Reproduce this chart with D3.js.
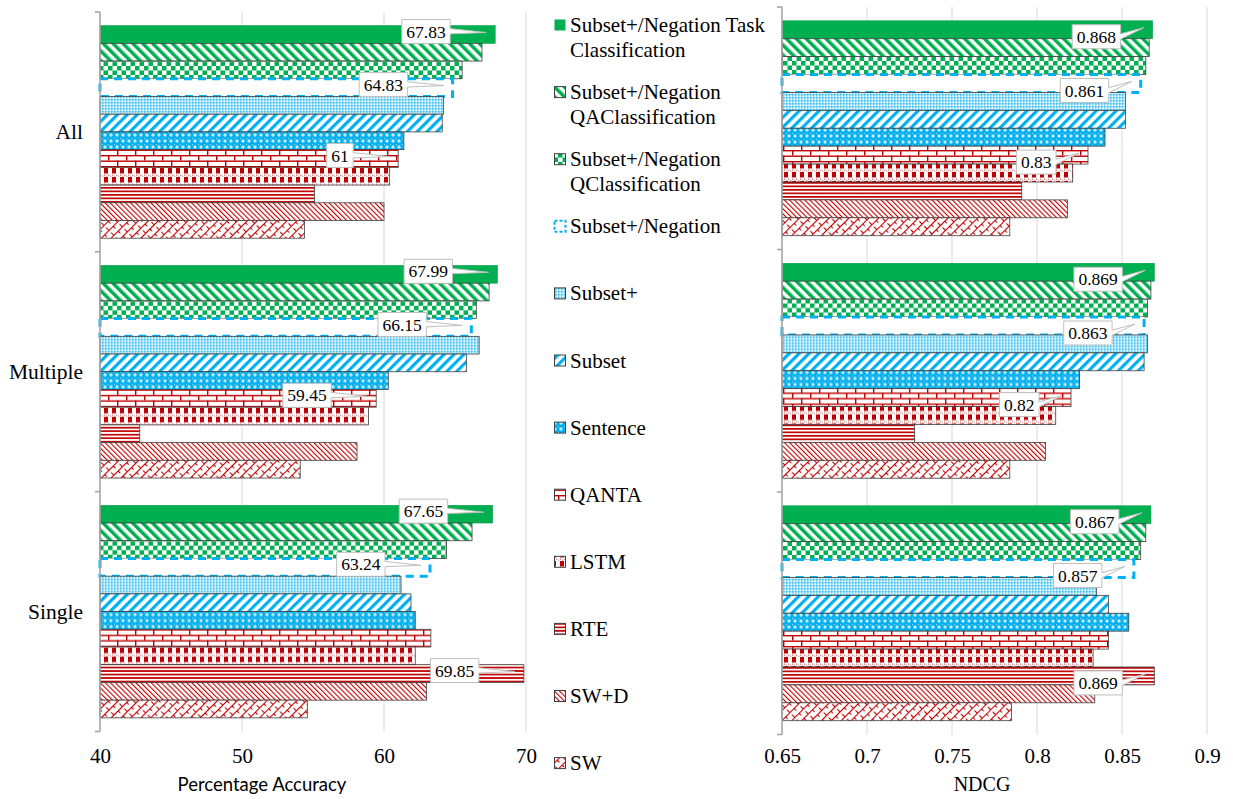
<!DOCTYPE html>
<html>
<head>
<meta charset="utf-8">
<script src="https://cdn.jsdelivr.net/npm/d3@7"></script>
<style>
  body { margin: 0; background: #fff; }
  text { font-family: "Liberation Serif", "Times New Roman", serif; fill: #000; }
</style>
</head>
<body>
<script>
// categories and series
const groups = ["All", "Multiple", "Single"];
const series = [
  "Subset+/Negation Task Classification",
  "Subset+/Negation QAClassification",
  "Subset+/Negation QClassification",
  "Subset+/Negation",
  "Subset+",
  "Subset",
  "Sentence",
  "QANTA",
  "LSTM",
  "RTE",
  "SW+D",
  "SW"
];
const legendLines = [
  ["Subset+/Negation Task", "Classification"],
  ["Subset+/Negation", "QAClassification"],
  ["Subset+/Negation", "QClassification"],
  ["Subset+/Negation"],
  ["Subset+"],
  ["Subset"],
  ["Sentence"],
  ["QANTA"],
  ["LSTM"],
  ["RTE"],
  ["SW+D"],
  ["SW"]
];

// Percentage accuracy (series order as above)
const accAll      = [67.83, 66.9, 65.5, 64.83, 64.2, 64.1, 61.4, 61, 60.4, 55.1, 60.0, 54.4];
const accMultiple = [67.99, 67.4, 66.5, 66.15, 66.7, 65.8, 60.3, 59.45, 58.9, 42.8, 58.1, 54.1];
const accSingle   = [67.65, 66.2, 64.4, 63.24, 61.2, 61.9, 62.2, 63.3, 62.2, 69.85, 63.0, 54.6];

// NDCG
const ndcgAll      = [0.868, 0.866, 0.864, 0.861, 0.852, 0.852, 0.840, 0.83, 0.821, 0.791, 0.818, 0.784];
const ndcgMultiple = [0.869, 0.867, 0.865, 0.863, 0.865, 0.863, 0.825, 0.82, 0.811, 0.728, 0.805, 0.784];
const ndcgSingle   = [0.867, 0.864, 0.861, 0.857, 0.835, 0.842, 0.854, 0.842, 0.833, 0.869, 0.834, 0.785];

const accTicks = [40, 50, 60, 70];
const ndcgTicks = [0.65, 0.7, 0.75, 0.8, 0.85, 0.9];

// which bars carry a data callout: [group, series index]
const calloutBars = [["All", 0], ["All", 3], ["All", 7],
                     ["Multiple", 0], ["Multiple", 3], ["Multiple", 7],
                     ["Single", 0], ["Single", 3], ["Single", 9]];

const green = "#00B050", blue = "#00B0F0", red = "#C00000";
const serif = '"Liberation Serif", "Times New Roman", serif';

const W = 1233, H = 799;
const svg = d3.select("body").append("svg").attr("width", W).attr("height", H);
const defs = svg.append("defs");

// fill patterns for each series
function pat(id, w, h, rot) {
  const p = defs.append("pattern").attr("id", id)
    .attr("patternUnits", "userSpaceOnUse").attr("width", w).attr("height", h);
  if (rot) p.attr("patternTransform", "rotate(" + rot + ")");
  p.append("rect").attr("width", w).attr("height", h).attr("fill", "#fff");
  return p;
}
let p;
p = pat("p1", 7, 7, -45);
p.append("rect").attr("width", 3.5).attr("height", 7).attr("fill", green);
p = pat("p2", 9, 9, 0);
p.append("rect").attr("width", 4.5).attr("height", 4.5).attr("fill", green);
p.append("rect").attr("x", 4.5).attr("y", 4.5).attr("width", 4.5).attr("height", 4.5).attr("fill", green);
p = pat("p4", 3, 3, 0);
p.append("rect").attr("width", 3).attr("height", 3).attr("fill", "#9fdff7");
p.append("rect").attr("width", 1.5).attr("height", 1.5).attr("fill", "#3fc2f2");
p.append("rect").attr("x", 1.5).attr("y", 1.5).attr("width", 1.5).attr("height", 1.5).attr("fill", "#eefafe");
p = pat("p5", 7, 7, 45);
p.append("rect").attr("width", 3.2).attr("height", 7).attr("fill", blue);
p = pat("p6", 6, 6, 0);
p.append("rect").attr("width", 6).attr("height", 6).attr("fill", blue);
p.append("circle").attr("cx", 3).attr("cy", 3).attr("r", 1.7).attr("fill", "#bfeafb");
p.append("circle").attr("cx", 0).attr("cy", 0).attr("r", 0.9).attr("fill", "#e6f7fd");
p = pat("p7", 18, 11, 0);
p.append("rect").attr("width", 18).attr("height", 1.4).attr("fill", red);
p.append("rect").attr("y", 5.5).attr("width", 18).attr("height", 1.4).attr("fill", red);
p.append("rect").attr("x", 0).attr("width", 1.4).attr("height", 5.5).attr("fill", red);
p.append("rect").attr("x", 9).attr("y", 5.5).attr("width", 1.4).attr("height", 5.5).attr("fill", red);
p = pat("p8", 8, 9, 0);
p.append("rect").attr("y", 0.5).attr("width", 1.3).attr("height", 1.3).attr("fill", "#d27a7a");
p.append("rect").attr("x", 4).attr("y", 0.5).attr("width", 1.3).attr("height", 1.3).attr("fill", "#d27a7a");
p.append("rect").attr("x", 2).attr("y", 1.6).attr("width", 1.3).attr("height", 1.3).attr("fill", "#e2a3a3");
p.append("rect").attr("x", 6).attr("y", 1.6).attr("width", 1.3).attr("height", 1.3).attr("fill", "#e2a3a3");
p.append("rect").attr("y", 3).attr("width", 4).attr("height", 5.5).attr("fill", red);
p = pat("p9", 4, 3.5, 0);
p.append("rect").attr("width", 4).attr("height", 1.7).attr("fill", red);
p = pat("p10", 3.6, 3.6, -45);
p.append("rect").attr("width", 1.1).attr("height", 3.6).attr("fill", red);
p = pat("p11", 12, 7, -45);
p.append("rect").attr("width", 12).attr("height", 1.1).attr("fill", red);
p.append("rect").attr("width", 1.1).attr("height", 3.5).attr("fill", red);
p.append("rect").attr("x", 6).attr("y", 3.5).attr("width", 1.1).attr("height", 3.5).attr("fill", red);

const fills = [green, "url(#p1)", "url(#p2)", "#fff", "url(#p4)", "url(#p5)", "url(#p6)",
               "url(#p7)", "url(#p8)", "url(#p9)", "url(#p10)", "url(#p11)"];

function barStyle(sel, i) {
  sel.attr("fill", fills[i]);
  if (i === 0) sel.attr("stroke", "#0a9a48").attr("stroke-width", 0.6);
  else if (i === 3) sel.attr("stroke", blue).attr("stroke-width", 3).attr("stroke-dasharray", "8,6");
  else sel.attr("stroke", "#404040").attr("stroke-width", 0.8);
}

function drawPanel(cfg) {
  const g = svg.append("g");
  const x = d3.scaleLinear().domain(cfg.domain).range(cfg.xRange);
  const y0 = d3.scaleBand().domain(groups).range(cfg.yRange);
  const y1 = d3.scaleBand().domain(d3.range(series.length))
    .range([0, y0.bandwidth()]).paddingOuter(0.77);

  // gridlines
  g.selectAll(".grid").data(cfg.ticks.slice(1)).join("line")
    .attr("x1", d => x(d)).attr("x2", d => x(d))
    .attr("y1", cfg.yRange[0]).attr("y2", cfg.yRange[1])
    .attr("stroke", "#d9d9d9").attr("stroke-width", 1);

  // bars
  groups.forEach((grp, gi) => {
    const vals = cfg.data[gi];
    const gg = g.append("g").attr("transform", `translate(0,${y0(grp)})`);
    vals.forEach((v, i) => {
      const r = gg.append("rect")
        .attr("x", x(cfg.domain[0]))
        .attr("y", y1(i))
        .attr("width", x(v) - x(cfg.domain[0]))
        .attr("height", y1.bandwidth());
      barStyle(r, i);
    });
  });

  // category axis line with boundary ticks
  const x0 = cfg.xRange[0];
  g.append("line").attr("x1", x0).attr("x2", x0)
    .attr("y1", cfg.yRange[0]).attr("y2", cfg.yRange[1])
    .attr("stroke", "#a6a6a6").attr("stroke-width", 1.6);
  const bounds = groups.map(d => y0(d)).concat([cfg.yRange[1]]);
  g.selectAll(".bt").data(bounds).join("line")
    .attr("x1", x0 - 5).attr("x2", x0).attr("y1", d => d).attr("y2", d => d)
    .attr("stroke", "#a6a6a6").attr("stroke-width", 1.6);

  if (cfg.catLabels) {
    g.selectAll(".cat").data(groups).join("text")
      .attr("x", x0 - 17).attr("y", d => y0(d) + y0.bandwidth() / 2)
      .attr("dy", "0.35em").attr("text-anchor", "end")
      .style("font-family", serif).style("font-size", "21.5px").text(d => d);
  }

  // value axis
  const ax = g.append("g").attr("transform", `translate(0,${cfg.tickY})`)
    .call(d3.axisBottom(x).tickValues(cfg.ticks).tickSize(0).tickPadding(0)
      .tickFormat(d => String(d)));
  ax.select(".domain").remove();
  ax.selectAll("text").style("font-family", serif)
    .style("font-size", "21px").attr("fill", "#000");

  g.append("text").attr("x", cfg.titleX).attr("y", 791)
    .attr("text-anchor", "middle")
    .style("font-family", cfg.titleFont).style("font-size", cfg.titleSize)
    .text(cfg.title);

  // callouts
  calloutBars.forEach(([grp, i]) => {
    const gi = groups.indexOf(grp);
    const v = cfg.data[gi][i];
    const end = x(v);
    const by0 = y0(grp) + y1(i) + y1.bandwidth() / 2;
    const cg = g.append("g");
    const t = cg.append("text").attr("text-anchor", "middle").attr("dy", "0.35em")
      .style("font-family", serif).style("font-size", "17.5px").text(String(v));
    const w = t.node().getComputedTextLength() + 9, h = 24;
    const bx = end - cfg.calloutOff - w, by = by0 + cfg.calloutDy - h / 2;
    const tx = end - 9, ty = by0 - 2;
    t.attr("x", bx + w / 2).attr("y", by + h / 2);
    cg.insert("path", () => t.node())
      .attr("d", `M${bx},${by}H${bx + w}V${by + h * 0.38}L${tx},${ty}L${bx + w},${by + h * 0.6}V${by + h}H${bx}Z`)
      .attr("fill", "#fff").attr("stroke", "#bfbfbf").attr("stroke-width", 1);
  });
}

drawPanel({
  domain: [40, 70], xRange: [100, 526], yRange: [12, 731.5],
  ticks: accTicks, data: [accAll, accMultiple, accSingle],
  catLabels: true, tickY: 748,
  title: "Percentage Accuracy", titleX: 262,
  titleFont: 'Lato, "Open Sans", sans-serif', titleSize: "18.5px",
  calloutOff: 45, calloutDy: -3
});

drawPanel({
  domain: [0.65, 0.9], xRange: [782, 1207], yRange: [7, 734.5],
  ticks: ndcgTicks, data: [ndcgAll, ndcgMultiple, ndcgSingle],
  catLabels: false, tickY: 748,
  title: "NDCG", titleX: 982,
  titleFont: serif, titleSize: "20px",
  calloutOff: 32, calloutDy: 7
});

// legend
const lg = svg.append("g");
series.forEach((s, i) => {
  const base = 32 + i * 67.1;
  const m = lg.append("rect").attr("x", 554.5).attr("y", base - 12.5)
    .attr("width", 11).attr("height", 11);
  if (i === 0) m.attr("fill", green);
  else if (i === 3) m.attr("fill", "#fff").attr("stroke", blue).attr("stroke-width", 2)
    .attr("stroke-dasharray", "3,2");
  else m.attr("fill", fills[i]).attr("stroke", "#404040").attr("stroke-width", 1);
  legendLines[i].forEach((line, li) => {
    lg.append("text").attr("x", 570).attr("y", base + li * 25)
      .style("font-family", serif).style("font-size", "21px").text(line);
  });
});
</script>
</body>
</html>
